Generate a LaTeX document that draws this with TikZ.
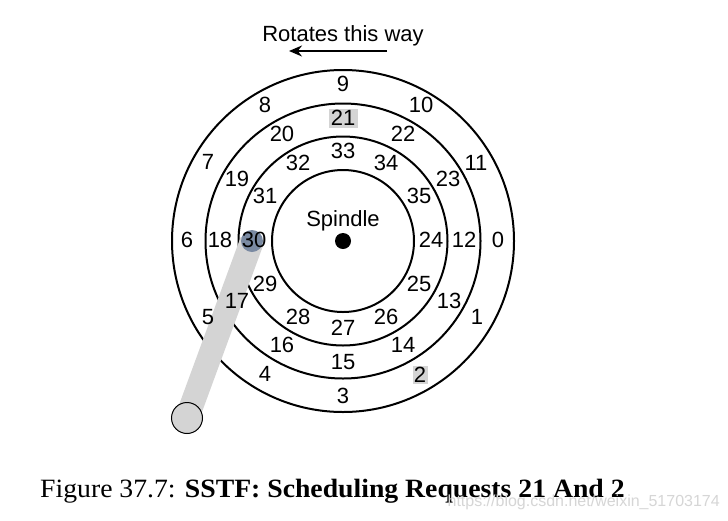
\documentclass[tikz,border=0pt]{standalone}
\usepackage{fontspec}
\setmainfont{Liberation Sans}
\newfontfamily\capfont[FakeStretch=1.05]{Liberation Serif}
\usetikzlibrary{arrows.meta}
\definecolor{armgray}{gray}{0.83}
\definecolor{headblue}{HTML}{7A8AA2}
\definecolor{wmgray}{gray}{0.84}
\tikzset{
  track/.style={draw=black,line width=2pt,fill=none},
  num/.style={inner sep=0pt,font=\fontsize{22}{24}\selectfont,text=black},
  req/.style={num,fill=armgray,minimum width=29pt,minimum height=19pt,inner sep=0pt},
  req2/.style={num,fill=armgray,minimum width=15pt,minimum height=18pt,inner sep=0pt},
}
\begin{document}
\begin{tikzpicture}[x=1pt,y=-1pt]
\useasboundingbox (0,0) rectangle (728,520);
\fill[white] (0,0) rectangle (728,520);
\coordinate (c) at (343,241);
\draw[track] (c) circle[radius=171];
\draw[track] (c) circle[radius=137.5];
\draw[track] (c) circle[radius=104.5];
\draw[track] (c) circle[radius=71];
\fill[black] (c) circle[radius=8];
% arm
\coordinate (armtip) at (252,241);
\coordinate (armbase) at (187,418);
\draw[armgray,line width=24pt] (armtip) -- (armbase);
\node[circle,draw=black,line width=1pt,fill=armgray,minimum size=31pt,inner sep=0pt] (pivot) at (armbase) {};
\node[circle,fill=headblue,minimum size=22pt,inner sep=0pt] (head) at (armtip) {};
% labels
\node[req] (n21) at (343,118) {21};
\node[req2] (n2) at (420,374.5) {2};
\foreach \t/\x/\y in {9/343/84,10/421/105,11/476/163,0/498/240,1/477/317,3/343/396,4/265/374,5/208/317,6/187/240,7/208/162,8/265/105,
22/403/134,23/448/179,12/464/240,13/449/301,14/403/345,15/343/362,16/282/345,17/237/301,18/220/240,19/237/179,20/282/134,
33/343/151,34/386/163,35/419/196,24/431/240,25/419/284,26/386/317,27/343/328,28/298/317,29/265/284,30/254/240,31/265/196,32/298/163}
  \node[num] (n\t) at (\x,\y) {\t};
\node[num] (spindle) at (343,221) {Spindle};
\node[num] (rot) at (343,36) {Rotates this way};
\coordinate (arrR) at (387,51);
\coordinate (arrL) at (289,51);
\draw[line width=2pt,-{Stealth[length=13pt,width=11pt]}] (arrR) -- (arrL);
% caption
\node[anchor=base west,inner sep=0pt,font=\capfont\fontsize{26.4}{28}\selectfont] (cap) at (40,497) {Figure 37.7: \textbf{SSTF: Scheduling Requests 21 And 2}};
\node[anchor=base east,inner sep=0pt,text=wmgray,font=\fontsize{16}{18}\selectfont] (wm) at (720,506) {https://blog.csdn.net/weixin\_51703174};
\end{tikzpicture}
\end{document}
